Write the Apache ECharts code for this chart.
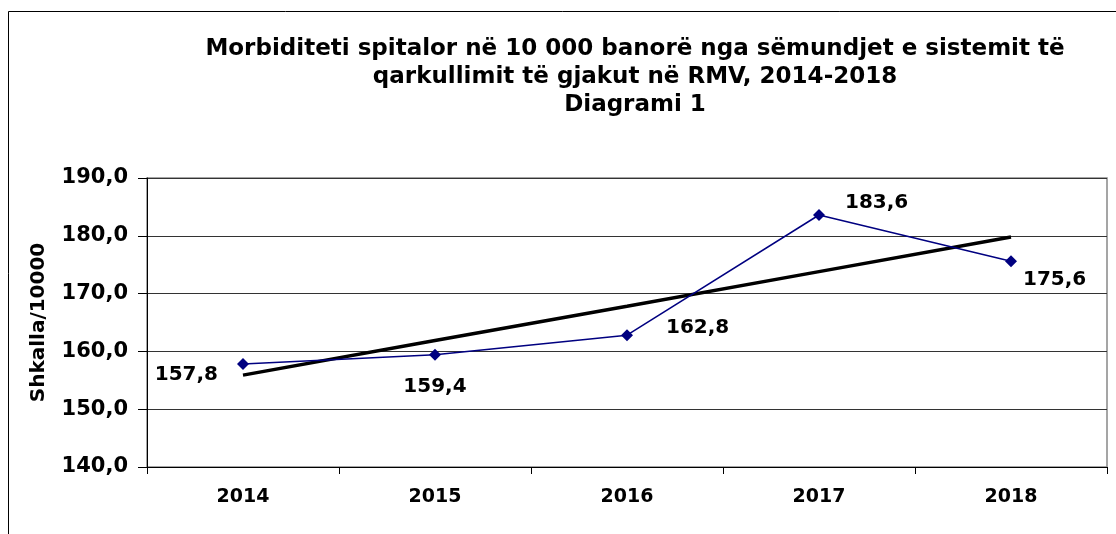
<!DOCTYPE html>
<html>
<head>
<meta charset="utf-8">
<script src="https://cdn.jsdelivr.net/npm/echarts@6/dist/echarts.min.js"></script>
<style>
  html, body { margin: 0; padding: 0; background: #fff; }
  #main { width: 1116px; height: 534px; }
</style>
</head>
<body>
<div id="main"></div>
<script>
// te dhenat
var years = ['2014', '2015', '2016', '2017', '2018'];
var morbiditeti = [157.8, 159.4, 162.8, 183.6, 175.6];
// vija e trendit (lexuar nga grafiku)
var trendi = [155.9, 161.9, 167.8, 173.8, 179.8];
var yTicks = [140, 150, 160, 170, 180, 190];

function fmt(v) {
  return v.toFixed(1).replace('.', ',');
}

// pozicionet e etiketave per secilen pike
var labelCfg = [
  { position: 'left', distance: 19, offset: [0, 11] },
  { position: 'bottom', distance: 16, offset: [0, 0] },
  { position: 'right', distance: 33, offset: [0, -7] },
  { position: 'right', distance: 20, offset: [0, -12] },
  { position: 'right', distance: 6, offset: [0, 19] }
];

var myChart = echarts.init(document.getElementById('main'));
var font = 'DejaVu Sans';

myChart.setOption({
  animation: false,
  backgroundColor: '#fff',
  textStyle: { fontFamily: font },
  title: {
    text: 'Morbiditeti spitalor në 10 000 banorë nga sëmundjet e sistemit të\nqarkullimit të gjakut në RMV, 2014-2018\nDiagrami 1',
    left: 630,
    top: 30,
    textAlign: 'center',
    textStyle: { fontFamily: font, fontSize: 23, fontWeight: 'bold', color: '#000', lineHeight: 28 }
  },
  graphic: [{
    type: 'rect',
    shape: { x: 8.5, y: 11.5, width: 1200, height: 600 },
    style: { fill: null, stroke: '#000', lineWidth: 1 },
    silent: true
  }, {
    type: 'rect',
    shape: { x: 147, y: 178, width: 960, height: 289 },
    style: { fill: null, stroke: '#888', lineWidth: 1.5 },
    silent: true,
    z: -1
  }],
  grid: { left: 147, right: 9, top: 178, bottom: 67 },
  xAxis: {
    type: 'category',
    data: years,
    boundaryGap: true,
    axisLine: { lineStyle: { color: '#000', width: 1 } },
    axisTick: { show: true, length: 7, lineStyle: { color: '#000' } },
    axisLabel: { color: '#000', fontSize: 19, fontWeight: 'bold', margin: 21, fontFamily: font },
    splitLine: { show: false }
  },
  yAxis: {
    type: 'value',
    min: yTicks[0],
    max: yTicks[yTicks.length - 1],
    interval: 10,
    name: 'Shkalla/10000',
    nameLocation: 'middle',
    nameGap: 98,
    nameTextStyle: { color: '#000', fontSize: 20, fontWeight: 'bold', fontFamily: font },
    axisLine: { show: true, lineStyle: { color: '#000', width: 1 } },
    axisTick: { show: true, length: 9, lineStyle: { color: '#000' } },
    axisLabel: {
      color: '#000', fontSize: 21, fontWeight: 'bold', margin: 19, fontFamily: font,
      formatter: function (v) { return fmt(v); }
    },
    splitLine: { show: true, lineStyle: { color: '#333', width: 1 } }
  },
  series: [{
    name: 'Trendi',
    type: 'line',
    data: trendi,
    symbol: 'none',
    lineStyle: { color: '#000', width: 3.5 },
    z: 3
  }, {
    name: 'Morbiditeti',
    type: 'line',
    data: morbiditeti.map(function (v, i) {
      return { value: v, label: labelCfg[i] };
    }),
    symbol: 'diamond',
    symbolSize: 12,
    itemStyle: { color: '#000080' },
    lineStyle: { color: '#000080', width: 1.5 },
    label: {
      show: true,
      color: '#000',
      fontSize: 20,
      fontWeight: 'bold',
      fontFamily: font,
      formatter: function (p) { return fmt(p.value); }
    },
    z: 4
  }]
});
</script>
</body>
</html>
